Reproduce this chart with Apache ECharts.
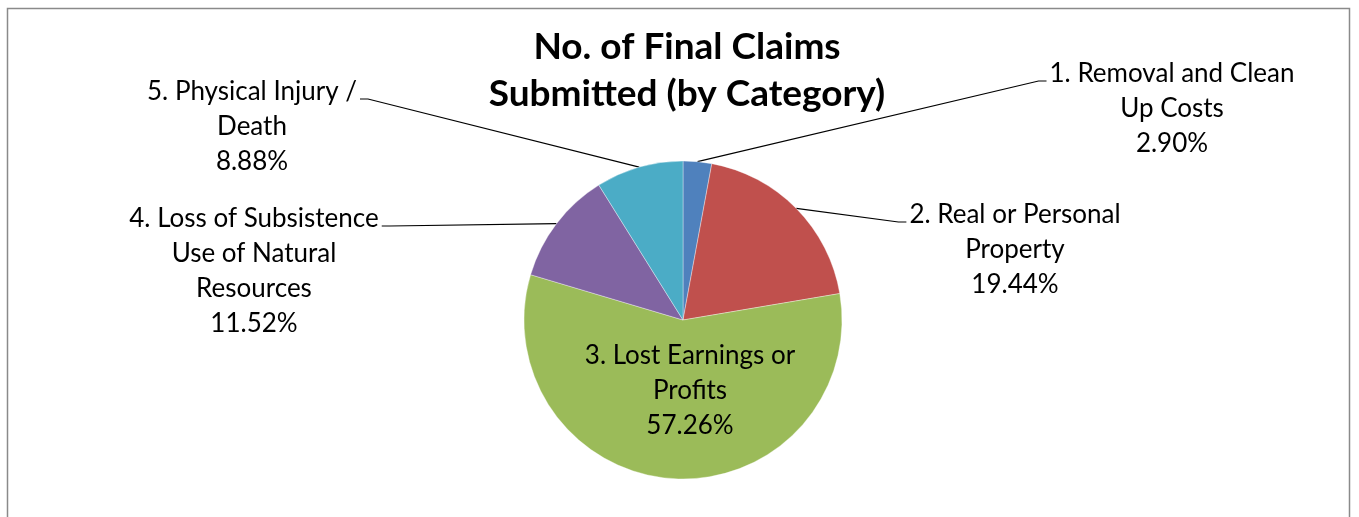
<!DOCTYPE html>
<html>
<head>
<meta charset="utf-8">
<script src="https://cdn.jsdelivr.net/npm/echarts@6/dist/echarts.min.js"></script>
<style>
  html, body { margin: 0; padding: 0; background: #fff; }
  #chartClaims { width: 1359px; height: 517px; }
</style>
</head>
<body>
<div id="chartClaims"></div>
<script>
// ---- data ----
var categories = [
    '1. Removal and Clean\nUp Costs',
    '2. Real or Personal\nProperty',
    '3. Lost Earnings or\nProfits',
    '4. Loss of Subsistence\nUse of Natural\nResources',
    '5. Physical Injury /\nDeath'
];
var shares = [2.90, 19.44, 57.26, 11.52, 8.88];
var sliceColors = ['#4f81bd', '#c0504d', '#9bbb59', '#8064a2', '#4bacc6'];

// label block: centre x, top y, which side the leader goes to
var labelSpots = [
    { x: 1172, y: 56, side: 'left' },
    { x: 1015, y: 197, side: 'left' },
    { x: 690, y: 338, side: 'none' },
    { x: 254, y: 201, side: 'right' },
    { x: 252, y: 74, side: 'right' }
];

function renderClaims() {
    var dom = document.getElementById('chartClaims');
    var myChart = echarts.init(dom);

    var pieData = categories.map(function (name, i) {
        return {
            name: name,
            value: shares[i],
            itemStyle: { color: sliceColors[i] },
            labelLine: { show: labelSpots[i].side !== 'none' }
        };
    });

    var option = {
        backgroundColor: '#fff',
        animation: false,
        title: {
            text: 'No. of Final Claims\nSubmitted (by Category)',
            left: 687,
            top: 24,
            padding: 0,
            textAlign: 'center',
            textStyle: {
                fontFamily: 'Lato',
                fontWeight: 'bold',
                fontSize: 37,
                lineHeight: 47,
                color: '#000'
            }
        },
        graphic: [{
            type: 'rect',
            shape: { x: 7.5, y: 8.5, width: 1342, height: 540 },
            style: { fill: 'none', stroke: '#8a8a8a', lineWidth: 1.5 },
            silent: true
        }],
        series: [{
            type: 'pie',
            center: [683, 320],
            radius: 159,
            startAngle: 90,
            clockwise: true,
            data: pieData,
            itemStyle: {
                borderColor: 'rgba(255,255,255,0.6)',
                borderWidth: 0.6
            },
            label: {
                show: true,
                position: 'outside',
                fontFamily: 'Lato',
                fontSize: 26,
                lineHeight: 35,
                color: '#000',
                align: 'center',
                formatter: function (p) {
                    return p.name + '\n' + p.value.toFixed(2) + '%';
                }
            },
            labelLine: {
                show: true,
                length: 20,
                length2: 20,
                lineStyle: { color: '#000', width: 1.2 }
            },
            labelLayout: function (params) {
                var spot = labelSpots[params.dataIndex];
                var w = params.labelRect.width;
                var out = {
                    x: spot.x,
                    y: spot.y,
                    align: 'center',
                    verticalAlign: 'top'
                };
                if (spot.side !== 'none' && params.labelLinePoints) {
                    var p0 = params.labelLinePoints[0];
                    var endY = spot.y + 25;
                    var endX, elbowX;
                    if (spot.side === 'left') {
                        endX = spot.x - w / 2 - 3;
                        elbowX = endX - 8;
                    } else {
                        endX = spot.x + w / 2 + 3;
                        elbowX = endX + 8;
                    }
                    out.labelLinePoints = [p0, [elbowX, endY], [endX, endY]];
                }
                return out;
            }
        }]
    };

    myChart.setOption(option);

    window.onresize = function () {
        myChart.resize();
    };
}
renderClaims();
</script>
</body>
</html>
